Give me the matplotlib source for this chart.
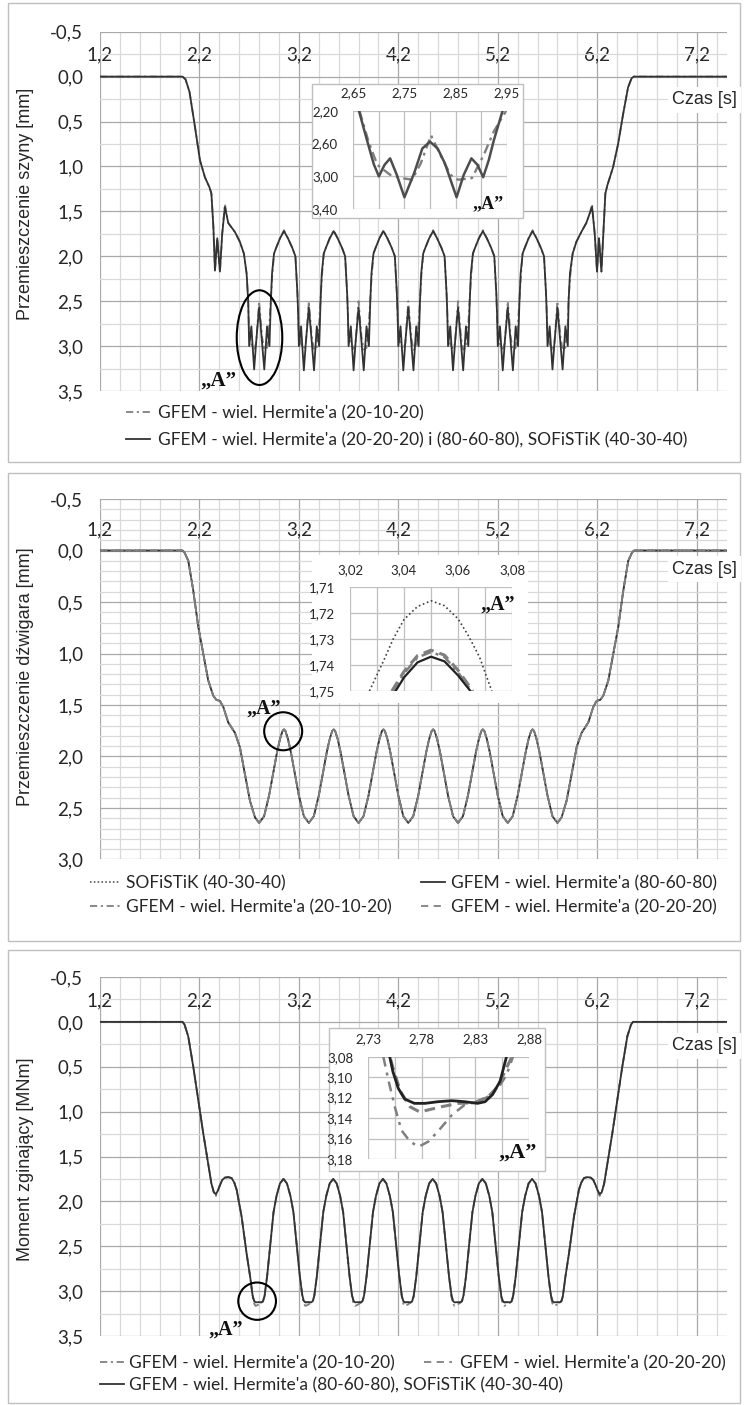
import matplotlib
matplotlib.use("Agg")
import matplotlib.pyplot as plt
from matplotlib.patches import Rectangle, Ellipse
from matplotlib.ticker import MultipleLocator, FixedLocator, FuncFormatter

plt.rcParams['font.family'] = ['Lato', 'DejaVu Sans']

# ---------------- data ----------------
x_major = [1.2, 2.2, 3.2, 4.2, 5.2, 6.2, 7.2]

lab_2010 = "GFEM - wiel. Hermite'a (20-10-20)"
lab_2020 = "GFEM - wiel. Hermite'a (20-20-20)"
lab_8060 = "GFEM - wiel. Hermite'a (80-60-80)"
lab_sof = "SOFiSTiK (40-30-40)"
lab_p1_solid = "GFEM - wiel. Hermite'a (20-20-20) i (80-60-80), SOFiSTiK (40-30-40)"
lab_p3_solid = "GFEM - wiel. Hermite'a (80-60-80), SOFiSTiK (40-30-40)"

# Panel 1: rail displacement [mm]
t1 = [1.20, 2.03, 2.06, 2.10, 2.155, 2.205, 2.255, 2.30, 2.32, 2.34, 2.356, 2.379, 2.406, 2.429, 2.456, 2.49, 2.557, 2.607, 2.647, 2.674, 2.69,
      2.700, 2.722, 2.750, 2.770, 2.800, 2.830, 2.852, 2.880, 2.904, 2.918, 2.930, 2.950, 2.970, 3.010, 3.050, 3.090, 3.135, 3.165, 3.185, 3.192,
      3.200, 3.222, 3.250, 3.270, 3.300, 3.330, 3.352, 3.380, 3.404, 3.418, 3.430, 3.450, 3.470, 3.510, 3.550, 3.590, 3.635, 3.665, 3.685, 3.692,
      3.700, 3.722, 3.750, 3.770, 3.800, 3.830, 3.852, 3.880, 3.904, 3.918, 3.930, 3.950, 3.970, 4.010, 4.050, 4.090, 4.135, 4.165, 4.185, 4.192,
      4.200, 4.222, 4.250, 4.270, 4.300, 4.330, 4.352, 4.380, 4.404, 4.418, 4.430, 4.450, 4.470, 4.510, 4.550, 4.590, 4.635, 4.665, 4.685, 4.692,
      4.700, 4.722, 4.750, 4.770, 4.800, 4.830, 4.852, 4.880, 4.904, 4.918, 4.930, 4.950, 4.970, 5.010, 5.050, 5.090, 5.135, 5.165, 5.185, 5.192,
      5.200, 5.222, 5.250, 5.270, 5.300, 5.330, 5.352, 5.380, 5.404, 5.418, 5.430, 5.450, 5.470, 5.510, 5.550, 5.590, 5.635, 5.665, 5.685, 5.692,
      5.700, 5.722, 5.750, 5.770, 5.800, 5.830, 5.852, 5.880, 5.904,
      5.912, 5.926, 5.953, 5.99, 6.04, 6.09, 6.125, 6.148, 6.175, 6.198, 6.218, 6.242, 6.265, 6.282, 6.302, 6.359, 6.41, 6.46, 6.51, 6.545, 6.567, 7.50]
y1_solid = [0.0, 0.0, 0.03, 0.17, 0.56, 0.93, 1.12, 1.23, 1.30, 1.67, 2.16, 1.80, 2.17, 1.75, 1.45, 1.63, 1.73, 1.84, 1.97, 2.19, 2.49,
            3.00, 2.78, 3.26, 2.96, 2.57, 2.96, 3.26, 2.78, 3.00, 2.50, 2.19, 1.97, 1.91, 1.80, 1.72, 1.80, 1.91, 2.00, 2.41, 2.62,
            3.00, 2.78, 3.27, 2.96, 2.57, 2.96, 3.27, 2.78, 3.00, 2.50, 2.19, 1.97, 1.91, 1.80, 1.72, 1.80, 1.91, 2.00, 2.41, 2.62,
            3.00, 2.78, 3.27, 2.96, 2.57, 2.96, 3.27, 2.78, 3.00, 2.50, 2.19, 1.97, 1.91, 1.80, 1.72, 1.80, 1.91, 2.00, 2.41, 2.62,
            3.00, 2.78, 3.27, 2.96, 2.57, 2.96, 3.27, 2.78, 3.00, 2.50, 2.19, 1.97, 1.91, 1.80, 1.72, 1.80, 1.91, 2.00, 2.41, 2.62,
            3.00, 2.78, 3.27, 2.96, 2.57, 2.96, 3.27, 2.78, 3.00, 2.50, 2.19, 1.97, 1.91, 1.80, 1.72, 1.80, 1.91, 2.00, 2.41, 2.62,
            3.00, 2.78, 3.27, 2.96, 2.57, 2.96, 3.27, 2.78, 3.00, 2.50, 2.19, 1.97, 1.91, 1.80, 1.72, 1.80, 1.91, 2.00, 2.41, 2.62,
            3.00, 2.78, 3.26, 2.96, 2.57, 2.96, 3.26, 2.78, 3.00,
            2.50, 2.19, 1.97, 1.84, 1.73, 1.63, 1.52, 1.45, 1.75, 2.17, 1.80, 2.17, 1.67, 1.30, 1.21, 1.01, 0.75, 0.42, 0.12, 0.02, 0.0, 0.0]
y1_dd = [0.0, 0.0, 0.03, 0.17, 0.56, 0.93, 1.12, 1.23, 1.30, 1.67, 2.16, 1.80, 2.17, 1.75, 1.42, 1.63, 1.73, 1.84, 1.97, 2.19, 2.49,
         2.88, 2.98, 3.03, 2.97, 2.50, 2.90, 3.04, 3.02, 2.74, 2.48, 2.25, 1.97, 1.91, 1.80, 1.71, 1.80, 1.91, 2.00, 2.41, 2.62,
         2.88, 2.98, 3.03, 2.97, 2.50, 2.90, 3.04, 3.02, 2.74, 2.48, 2.25, 1.97, 1.91, 1.80, 1.71, 1.80, 1.91, 2.00, 2.41, 2.62,
         2.88, 2.98, 3.03, 2.97, 2.50, 2.90, 3.04, 3.02, 2.74, 2.48, 2.25, 1.97, 1.91, 1.80, 1.71, 1.80, 1.91, 2.00, 2.41, 2.62,
         2.88, 2.98, 3.03, 2.97, 2.50, 2.90, 3.04, 3.02, 2.74, 2.48, 2.25, 1.97, 1.91, 1.80, 1.71, 1.80, 1.91, 2.00, 2.41, 2.62,
         2.88, 2.98, 3.03, 2.97, 2.50, 2.90, 3.04, 3.02, 2.74, 2.48, 2.25, 1.97, 1.91, 1.80, 1.71, 1.80, 1.91, 2.00, 2.41, 2.62,
         2.88, 2.98, 3.03, 2.97, 2.50, 2.90, 3.04, 3.02, 2.74, 2.48, 2.25, 1.97, 1.91, 1.80, 1.71, 1.80, 1.91, 2.00, 2.41, 2.62,
         2.88, 2.98, 3.03, 2.97, 2.50, 2.90, 3.04, 3.02, 2.74,
         2.48, 2.25, 1.97, 1.84, 1.73, 1.63, 1.52, 1.42, 1.75, 2.17, 1.80, 2.17, 1.67, 1.30, 1.21, 1.01, 0.75, 0.42, 0.12, 0.02, 0.0, 0.0]

# Panel 1 inset ("A")
t1i_solid = [2.661, 2.675, 2.690, 2.700, 2.711, 2.722, 2.735, 2.750, 2.769, 2.785, 2.800, 2.815, 2.829, 2.852, 2.866, 2.881, 2.893, 2.904, 2.915, 2.925, 2.942]
y1i_solid = [2.20, 2.52, 2.85, 3.00, 2.86, 2.78, 2.98, 3.254, 2.96, 2.66, 2.577, 2.66, 2.84, 3.254, 2.98, 2.78, 2.86, 3.01, 2.80, 2.557, 2.20]
t1i_dd = [2.662, 2.680, 2.697, 2.722, 2.745, 2.765, 2.782, 2.802, 2.822, 2.840, 2.855, 2.882, 2.905, 2.925, 2.949]
y1i_dd = [2.20, 2.58, 2.86, 2.98, 3.02, 3.04, 2.84, 2.50, 2.76, 2.98, 3.04, 3.02, 2.74, 2.45, 2.20]

# Panel 2: girder displacement [mm]
t2 = [1.20, 2.03, 2.05, 2.088, 2.138, 2.188, 2.238, 2.288, 2.339, 2.37, 2.406, 2.44, 2.49, 2.557, 2.607, 2.657, 2.708, 2.758,
      2.80, 2.85, 2.90, 2.94, 2.98, 3.01, 3.035, 3.05, 3.065, 3.09, 3.12, 3.16, 3.20, 3.25,
      3.30, 3.35, 3.40, 3.44, 3.48, 3.51, 3.535, 3.55, 3.565, 3.59, 3.62, 3.66, 3.70, 3.75,
      3.80, 3.85, 3.90, 3.94, 3.98, 4.01, 4.035, 4.05, 4.065, 4.09, 4.12, 4.16, 4.20, 4.25,
      4.30, 4.35, 4.40, 4.44, 4.48, 4.51, 4.535, 4.55, 4.565, 4.59, 4.62, 4.66, 4.70, 4.75,
      4.80, 4.85, 4.90, 4.94, 4.98, 5.01, 5.035, 5.05, 5.065, 5.09, 5.12, 5.16, 5.20, 5.25,
      5.30, 5.35, 5.40, 5.44, 5.48, 5.51, 5.535, 5.55, 5.565, 5.59, 5.62, 5.66, 5.70, 5.75,
      5.80, 5.842, 5.892, 5.943, 5.993, 6.043, 6.11, 6.16, 6.194, 6.23, 6.261, 6.312, 6.362, 6.412, 6.462, 6.512, 6.55, 6.57, 7.50]
y2 = [0.0, 0.0, 0.02, 0.10, 0.39, 0.74, 1.00, 1.26, 1.41, 1.45, 1.46, 1.52, 1.67, 1.77, 1.91, 2.17, 2.43, 2.59,
      2.645, 2.58, 2.38, 2.17, 1.96, 1.83, 1.753, 1.737, 1.753, 1.83, 1.96, 2.17, 2.38, 2.58,
      2.645, 2.58, 2.38, 2.17, 1.96, 1.83, 1.753, 1.737, 1.753, 1.83, 1.96, 2.17, 2.38, 2.58,
      2.645, 2.58, 2.38, 2.17, 1.96, 1.83, 1.753, 1.737, 1.753, 1.83, 1.96, 2.17, 2.38, 2.58,
      2.645, 2.58, 2.38, 2.17, 1.96, 1.83, 1.753, 1.737, 1.753, 1.83, 1.96, 2.17, 2.38, 2.58,
      2.645, 2.58, 2.38, 2.17, 1.96, 1.83, 1.753, 1.737, 1.753, 1.83, 1.96, 2.17, 2.38, 2.58,
      2.645, 2.58, 2.38, 2.17, 1.96, 1.83, 1.753, 1.737, 1.753, 1.83, 1.96, 2.17, 2.38, 2.58,
      2.645, 2.59, 2.43, 2.17, 1.91, 1.77, 1.67, 1.52, 1.46, 1.45, 1.41, 1.26, 1.00, 0.74, 0.39, 0.10, 0.02, 0.0, 0.0]

# Panel 2 inset ("A")
t2i_sof = [3.0272, 3.0326, 3.036, 3.040, 3.045, 3.050, 3.055, 3.060, 3.064, 3.068, 3.0725]
y2i_sof = [1.750, 1.738, 1.730, 1.7225, 1.7175, 1.7153, 1.7172, 1.7222, 1.729, 1.737, 1.750]
t2i_80 = [3.0369, 3.040, 3.045, 3.050, 3.055, 3.060, 3.0646]
y2i_80 = [1.750, 1.7448, 1.7390, 1.7368, 1.7386, 1.7440, 1.750]
t2i_da = [3.0355, 3.040, 3.045, 3.050, 3.055, 3.060, 3.0655]
y2i_da = [1.750, 1.7425, 1.7364, 1.7343, 1.7362, 1.7420, 1.750]
t2i_dd = [3.036, 3.040, 3.045, 3.050, 3.055, 3.060, 3.065]
y2i_dd = [1.750, 1.7432, 1.7371, 1.7350, 1.7369, 1.7428, 1.750]

# Panel 3: bending moment [MNm]
t3 = [1.20, 2.03, 2.05, 2.087, 2.138, 2.188, 2.238, 2.288, 2.32, 2.345, 2.366, 2.385, 2.406, 2.43, 2.456, 2.49, 2.523, 2.55, 2.574, 2.624, 2.674, 2.71, 2.735, 2.75,
      2.765, 2.795, 2.825, 2.840, 2.855, 2.880, 2.915, 2.945, 2.975, 3.010, 3.045, 3.080, 3.115, 3.145, 3.175, 3.210, 3.235, 3.250,
      3.265, 3.295, 3.325, 3.340, 3.355, 3.380, 3.415, 3.445, 3.475, 3.510, 3.545, 3.580, 3.615, 3.645, 3.675, 3.710, 3.735, 3.750,
      3.765, 3.795, 3.825, 3.840, 3.855, 3.880, 3.915, 3.945, 3.975, 4.010, 4.045, 4.080, 4.115, 4.145, 4.175, 4.210, 4.235, 4.250,
      4.265, 4.295, 4.325, 4.340, 4.355, 4.380, 4.415, 4.445, 4.475, 4.510, 4.545, 4.580, 4.615, 4.645, 4.675, 4.710, 4.735, 4.750,
      4.765, 4.795, 4.825, 4.840, 4.855, 4.880, 4.915, 4.945, 4.975, 5.010, 5.045, 5.080, 5.115, 5.145, 5.175, 5.210, 5.235, 5.250,
      5.265, 5.295, 5.325, 5.340, 5.355, 5.380, 5.415, 5.445, 5.475, 5.510, 5.545, 5.580, 5.615, 5.645, 5.675, 5.710, 5.735, 5.750,
      5.765, 5.795, 5.825, 5.840, 5.855, 5.880,
      5.916, 5.966, 6.016, 6.040, 6.067, 6.100, 6.134, 6.160, 6.184, 6.205, 6.224, 6.245, 6.270, 6.302, 6.352, 6.402, 6.452, 6.503, 6.540, 6.560, 7.50]
y3_solid = [0.0, 0.0, 0.03, 0.16, 0.50, 0.87, 1.24, 1.58, 1.80, 1.90, 1.92, 1.88, 1.82, 1.76, 1.735, 1.73, 1.74, 1.79, 1.87, 2.17, 2.58, 2.84, 3.05, 3.11,
            3.125, 3.123, 3.125, 3.11, 3.05, 2.84, 2.45, 2.12, 1.94, 1.80, 1.75, 1.80, 1.94, 2.12, 2.45, 2.84, 3.05, 3.11,
            3.125, 3.123, 3.125, 3.11, 3.05, 2.84, 2.45, 2.12, 1.94, 1.80, 1.75, 1.80, 1.94, 2.12, 2.45, 2.84, 3.05, 3.11,
            3.125, 3.123, 3.125, 3.11, 3.05, 2.84, 2.45, 2.12, 1.94, 1.80, 1.75, 1.80, 1.94, 2.12, 2.45, 2.84, 3.05, 3.11,
            3.125, 3.123, 3.125, 3.11, 3.05, 2.84, 2.45, 2.12, 1.94, 1.80, 1.75, 1.80, 1.94, 2.12, 2.45, 2.84, 3.05, 3.11,
            3.125, 3.123, 3.125, 3.11, 3.05, 2.84, 2.45, 2.12, 1.94, 1.80, 1.75, 1.80, 1.94, 2.12, 2.45, 2.84, 3.05, 3.11,
            3.125, 3.123, 3.125, 3.11, 3.05, 2.84, 2.45, 2.12, 1.94, 1.80, 1.75, 1.80, 1.94, 2.12, 2.45, 2.84, 3.05, 3.11,
            3.125, 3.123, 3.125, 3.11, 3.05, 2.84,
            2.58, 2.17, 1.87, 1.79, 1.74, 1.73, 1.735, 1.76, 1.82, 1.88, 1.92, 1.90, 1.80, 1.58, 1.24, 0.87, 0.50, 0.16, 0.03, 0.0, 0.0]
y3_dd = [0.0, 0.0, 0.03, 0.16, 0.50, 0.87, 1.24, 1.58, 1.80, 1.90, 1.94, 1.88, 1.82, 1.76, 1.735, 1.73, 1.74, 1.79, 1.87, 2.17, 2.58, 2.84, 3.07, 3.14,
         3.165, 3.15, 3.127, 3.115, 3.06, 2.84, 2.45, 2.12, 1.94, 1.80, 1.75, 1.80, 1.94, 2.12, 2.45, 2.84, 3.07, 3.14,
         3.165, 3.15, 3.127, 3.115, 3.06, 2.84, 2.45, 2.12, 1.94, 1.80, 1.75, 1.80, 1.94, 2.12, 2.45, 2.84, 3.07, 3.14,
         3.165, 3.15, 3.127, 3.115, 3.06, 2.84, 2.45, 2.12, 1.94, 1.80, 1.75, 1.80, 1.94, 2.12, 2.45, 2.84, 3.07, 3.14,
         3.165, 3.15, 3.127, 3.115, 3.06, 2.84, 2.45, 2.12, 1.94, 1.80, 1.75, 1.80, 1.94, 2.12, 2.45, 2.84, 3.07, 3.14,
         3.165, 3.15, 3.127, 3.115, 3.06, 2.84, 2.45, 2.12, 1.94, 1.80, 1.75, 1.80, 1.94, 2.12, 2.45, 2.84, 3.07, 3.14,
         3.165, 3.15, 3.127, 3.115, 3.06, 2.84, 2.45, 2.12, 1.94, 1.80, 1.75, 1.80, 1.94, 2.12, 2.45, 2.84, 3.07, 3.14,
         3.165, 3.15, 3.127, 3.115, 3.06, 2.84,
         2.58, 2.17, 1.87, 1.79, 1.74, 1.73, 1.735, 1.76, 1.82, 1.88, 1.94, 1.90, 1.80, 1.58, 1.24, 0.87, 0.50, 0.16, 0.03, 0.0, 0.0]

# Panel 3 inset ("A")
t3i_solid = [2.750, 2.753, 2.758, 2.764, 2.773, 2.783, 2.795, 2.808, 2.820, 2.832, 2.839, 2.846, 2.853, 2.859]
y3i_solid = [3.080, 3.0947, 3.111, 3.1214, 3.1256, 3.1256, 3.124, 3.123, 3.124, 3.1256, 3.124, 3.117, 3.104, 3.080]
t3i_da = [2.751, 2.753, 2.760, 2.769, 2.778, 2.786, 2.798, 2.814, 2.829, 2.842, 2.851, 2.859, 2.864]
y3i_da = [3.083, 3.091, 3.114, 3.129, 3.134, 3.132, 3.129, 3.1256, 3.125, 3.119, 3.109, 3.091, 3.080]
t3i_dd = [2.744, 2.749, 2.755, 2.761, 2.769, 2.777, 2.786, 2.795, 2.808, 2.820, 2.832, 2.842, 2.851, 2.859, 2.865]
y3i_dd = [3.080, 3.104, 3.130, 3.152, 3.163, 3.168, 3.163, 3.153, 3.137, 3.127, 3.124, 3.119, 3.111, 3.098, 3.080]

# ---------------- figure ----------------
W, H = 747, 1405
fig = plt.figure(figsize=(W / 100, H / 100), dpi=100)

def rect(x0, y0, x1, y1):
    return [x0 / W, 1 - y1 / H, (x1 - x0) / W, (y1 - y0) / H]

def fig_box(x0, y0, x1, y1, ec, fc, z):
    r = Rectangle((x0 / W, 1 - y1 / H), (x1 - x0) / W, (y1 - y0) / H, transform=fig.transFigure,
                  facecolor=fc, edgecolor=ec, lw=1.0, zorder=z)
    fig.add_artist(r)

SOLID = '#333333'
GREY = '#7f7f7f'
MAJ = '#a9a9a9'
MINC = '#d9d9d9'
TICK_FS = 13.5
LEG_FS = 12.5

def comma(fmt):
    def f(v, p):
        if abs(v) < 1e-9:
            v = 0.0
        return format(v, fmt).replace('.', ',')
    return FuncFormatter(f)

def style_main(ax, ymax, yminor, xpad):
    ax.set_xlim(1.2, 7.5)
    ax.set_ylim(ymax, -0.5)
    ax.xaxis.set_major_locator(FixedLocator(x_major))
    ax.xaxis.set_minor_locator(MultipleLocator(0.2))
    ax.yaxis.set_major_locator(MultipleLocator(0.5))
    ax.yaxis.set_minor_locator(MultipleLocator(yminor))
    ax.xaxis.set_major_formatter(comma('.1f'))
    ax.yaxis.set_major_formatter(comma('.1f'))
    ax.xaxis.tick_top()
    ax.tick_params(which='both', length=0)
    ax.tick_params(axis='x', labeltop=True, labelbottom=False, pad=-xpad, labelsize=TICK_FS, colors='#262626')
    ax.tick_params(axis='y', pad=12, labelsize=TICK_FS, colors='#262626')
    ax.grid(True, which='minor', color=MINC, lw=0.9)
    ax.grid(True, which='major', color=MAJ, lw=0.9)
    ax.set_axisbelow(True)
    for s in ax.spines.values():
        s.set_visible(False)

def style_inset(ax, xlim, ylim, xmaj, xmin, ymaj, fmt):
    ax.set_xlim(*xlim)
    ax.set_ylim(*ylim)
    ax.xaxis.set_major_locator(FixedLocator(xmaj))
    ax.xaxis.set_minor_locator(FixedLocator(xmin))
    ax.yaxis.set_major_locator(FixedLocator(ymaj))
    ax.xaxis.set_major_formatter(comma(fmt))
    ax.yaxis.set_major_formatter(comma(fmt))
    ax.xaxis.tick_top()
    ax.tick_params(which='both', length=0)
    ax.tick_params(axis='x', labeltop=True, labelbottom=False, pad=8, labelsize=9.5, colors='#262626')
    ax.tick_params(axis='y', pad=11, labelsize=9.5, colors='#262626')
    ax.grid(True, which='both', color='#bfbfbf', lw=0.9)
    ax.set_axisbelow(True)
    for s in ax.spines.values():
        s.set_visible(False)
    ax.set_facecolor('white')

def legend_at(ax, handles, labels, x, y, hl, htp, ls):
    L = ax.legend(handles, labels, loc='upper left', bbox_to_anchor=(x / W, 1 - y / H),
                  bbox_transform=fig.transFigure, frameon=False, fontsize=LEG_FS,
                  handlelength=hl, handletextpad=htp, borderpad=0, borderaxespad=0,
                  labelspacing=ls)
    for tx in L.get_texts():
        tx.set_color('#262626')
    return L

def czas(y):
    fig.text(672 / W, 1 - y / H, "Czas [s]", family='Liberation Sans', fontsize=13, va='center', ha='left',
             color='#262626', zorder=6, bbox=dict(fc='white', ec='none', pad=3))

# panel frames
fig_box(8, 3, 740, 462, '#bfbfbf', 'none', -1)
fig_box(8, 473, 740, 941, '#bfbfbf', 'none', -1)
fig_box(8, 950, 740, 1403, '#bfbfbf', 'none', -1)

A_TXT = "\u201eA\u201d"
A_KW = dict(family='Liberation Serif', weight='bold', ha='center', va='baseline', color='#111111')

# ---------- Panel 1 ----------
ax1 = fig.add_axes(rect(100, 31.7, 726.5, 391), zorder=1)
style_main(ax1, 3.5, 0.25, 23)
l1_dd, = ax1.plot(t1, y1_dd, color=GREY, lw=1.3, ls=(0, (4, 2, 1.2, 2)), zorder=3)
l1_s, = ax1.plot(t1, y1_solid, color=SOLID, lw=1.3, zorder=4)
ax1.add_patch(Ellipse((2.804, 2.906), 0.458, 1.054, fill=False, ec='black', lw=1.5, zorder=5))
ax1.text(2.389, 3.44, A_TXT, fontsize=15, **A_KW)
ax1.set_ylabel("Przemieszczenie szyny [mm]", family='Liberation Sans', fontsize=13, color='#262626')
ax1.yaxis.set_label_coords(-0.105, 0.52)
legend_at(ax1, [l1_dd, l1_s], [lab_2010, lab_p1_solid], 126, 405, 1.4, 0.45, 0.62)
czas(100)

fig_box(311.7, 84, 523, 218.3, '#bfbfbf', 'white', 2)
ax1i = fig.add_axes(rect(353.3, 110.7, 506.7, 209.3), zorder=3)
style_inset(ax1i, (2.65, 2.95), (3.40, 2.20), [2.65, 2.75, 2.85, 2.95], [2.70, 2.80, 2.90],
            [2.20, 2.60, 3.00, 3.40], '.2f')
ax1i.plot(t1i_dd, y1i_dd, color=GREY, lw=1.7, ls=(0, (4, 2, 1.2, 2)), zorder=3)
ax1i.plot(t1i_solid, y1i_solid, color='#4d4d4d', lw=1.8, zorder=4)
ax1i.text(2.913, 3.384, A_TXT, fontsize=13, clip_on=False, **A_KW)

# ---------- Panel 2 ----------
ax2 = fig.add_axes(rect(100, 499, 726.5, 859.5), zorder=1)
style_main(ax2, 3.0, 0.1, 28)
l2_sof, = ax2.plot(t2, y2, color='#404040', lw=1.1, ls=(0, (1, 1.5)), zorder=3)
l2_80, = ax2.plot(t2, y2, color=SOLID, lw=1.3, zorder=3)
l2_dd, = ax2.plot(t2, y2, color=GREY, lw=1.3, ls=(0, (4, 2, 1.2, 2)), zorder=4)
l2_da, = ax2.plot(t2, y2, color=GREY, lw=1.3, ls=(0, (4, 3)), zorder=4)
ax2.add_patch(Ellipse((3.042, 1.755), 0.382, 0.369, fill=False, ec='black', lw=1.5, zorder=5))
ax2.text(2.848, 1.583, A_TXT, fontsize=14.5, **A_KW)
ax2.set_ylabel("Przemieszczenie dźwigara [mm]", family='Liberation Sans', fontsize=13, color='#262626')
ax2.yaxis.set_label_coords(-0.105, 0.506)
legA = legend_at(ax2, [l2_sof, l2_dd], [lab_sof, lab_2010], 90, 875, 1.75, 0.3, 0.45)
ax2.add_artist(legA)
legend_at(ax2, [l2_80, l2_da], [lab_8060, lab_2020], 421, 875, 1.4, 0.35, 0.45)
czas(569)

fig_box(312, 555, 528, 703, 'none', 'white', 2)
ax2i = fig.add_axes(rect(350, 587, 512, 691), zorder=3)
style_inset(ax2i, (3.02, 3.08), (1.75, 1.71), [3.02, 3.04, 3.06, 3.08], [3.03, 3.05, 3.07],
            [1.71, 1.72, 1.73, 1.74, 1.75], '.2f')
ax2i.plot(t2i_sof, y2i_sof, color='#404040', lw=1.2, ls=(0, (1, 1.6)), zorder=3)
ax2i.plot(t2i_dd, y2i_dd, color=GREY, lw=1.8, ls=(0, (4, 2, 1.2, 2)), zorder=3)
ax2i.plot(t2i_da, y2i_da, color=GREY, lw=2.2, ls=(0, (3.5, 2)), zorder=3)
ax2i.plot(t2i_80, y2i_80, color='#222222', lw=1.6, zorder=4)
ax2i.text(3.0746, 1.7188, A_TXT, fontsize=14.5, clip_on=False, **A_KW)

# ---------- Panel 3 ----------
ax3 = fig.add_axes(rect(100, 977, 726.5, 1336), zorder=1)
style_main(ax3, 3.5, 0.25, 23)
l3_dd, = ax3.plot(t3, y3_dd, color=GREY, lw=1.3, ls=(0, (4, 2, 1.2, 2)), zorder=3)
l3_da, = ax3.plot(t3, y3_solid, color=GREY, lw=1.3, ls=(0, (4, 3)), zorder=3)
l3_s, = ax3.plot(t3, y3_solid, color=SOLID, lw=1.3, zorder=4)
ax3.add_patch(Ellipse((2.78, 3.112), 0.379, 0.416, fill=False, ec='black', lw=1.5, zorder=5))
ax3.text(2.461, 3.487, A_TXT, fontsize=14.5, clip_on=False, **A_KW)
ax3.set_ylabel("Moment zginający [MNm]", family='Liberation Sans', fontsize=13, color='#262626')
ax3.yaxis.set_label_coords(-0.105, 0.493)
legC = legend_at(ax3, [l3_dd, l3_s], [lab_2010, lab_p3_solid], 100, 1355, 1.4, 0.25, 0.36)
ax3.add_artist(legC)
legend_at(ax3, [l3_da], [lab_2020], 424, 1355, 1.6, 0.45, 0.36)
czas(1046)

fig_box(328.6, 1028, 545, 1171, '#bfbfbf', 'white', 2)
ax3i = fig.add_axes(rect(368.3, 1056.7, 529, 1159), zorder=3)
style_inset(ax3i, (2.73, 2.88), (3.18, 3.08), [2.73, 2.78, 2.83, 2.88], [2.755, 2.805, 2.855],
            [3.08, 3.10, 3.12, 3.14, 3.16, 3.18], '.2f')
ax3i.plot(t3i_dd, y3i_dd, color=GREY, lw=1.8, ls=(0, (4, 2.5, 1.2, 2.5)), zorder=3)
ax3i.plot(t3i_da, y3i_da, color=GREY, lw=2.2, ls=(0, (3.5, 2)), zorder=3)
ax3i.plot(t3i_solid, y3i_solid, color='#222222', lw=2.0, zorder=4)
ax3i.text(2.8693, 3.179, A_TXT, fontsize=16, clip_on=False, **A_KW)

fig.savefig("out.png", dpi=100)
